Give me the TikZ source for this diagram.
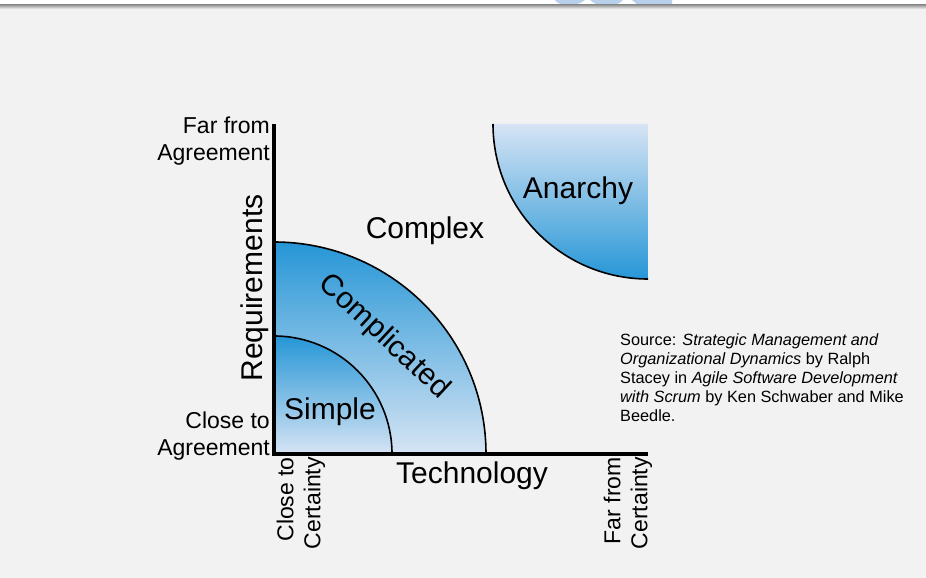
\documentclass[tikz,border=0pt]{standalone}
\usepackage{fontspec}
\setmainfont{Liberation Sans}
\definecolor{fondgris}{RGB}{242,242,242}
\definecolor{bleuFonce}{RGB}{38,150,214}
\definecolor{bleuClair}{RGB}{214,228,244}
\definecolor{logobleu}{RGB}{184,208,234}
\begin{document}
\begin{tikzpicture}[
    x=1pt, y=1pt,
    zone/.style={top color=bleuFonce, bottom color=bleuClair},
    zoneinv/.style={top color=bleuClair, bottom color=bleuFonce},
    bord/.style={draw=black, line width=1.6pt},
    axe/.style={line width=4pt},
    grand/.style={font=\fontsize{30}{35}\selectfont, inner sep=0pt},
    etiquette/.style={font=\fontsize{23}{27}\selectfont, align=right, inner sep=0pt},
    source/.style={font=\fontsize{16.3}{19}\selectfont, align=left, anchor=north west, inner sep=0pt}
]
\useasboundingbox (0,0) rectangle (926,578);

% Fond
\fill[fondgris] (0,0) rectangle (926,578);
\fill[white] (0,573) rectangle (926,578);
\fill[logobleu] (555,578) .. controls (559,571) and (577,571) .. (585,578) -- cycle;
\fill[logobleu] (590,578) .. controls (598,570) and (616,570) .. (623,578) -- cycle;
\fill[logobleu] (632,578) -- (639,572) -- (672,572) -- (672,578) -- cycle;
\shade[top color=gray!80, bottom color=fondgris] (0,573) rectangle (926,569);

% Zones
\shade[zone] (274,124) -- (274,336) arc[start angle=90, end angle=0, radius=212] -- cycle;
\draw[bord] (274,336) arc[start angle=90, end angle=0, radius=212];
\shade[zone] (274,124) -- (274,242) arc[start angle=90, end angle=0, radius=118] -- cycle;
\draw[bord] (274,242) arc[start angle=90, end angle=0, radius=118];
\shade[zoneinv] (648,454) -- (493,454) arc[start angle=180, end angle=270, radius=155] -- cycle;
\draw[bord] (493,454) arc[start angle=180, end angle=270, radius=155];

% Axes
\draw[axe] (274,122) -- (274,454);
\draw[axe] (272,124) -- (648,124);

% Textes
\node[grand] (complex) at (425,347) {Complex};
\node[grand] (anarchy) at (578,387) {Anarchy};
\node[grand] (simple) at (330,166) {Simple};
\node[grand, rotate=-43] (complicated) at (384,241) {Complicated};
\node[grand, rotate=90] (requirements) at (255,290) {Requirements};
\node[grand] (technology) at (472,102) {Technology};

\node[etiquette, anchor=east] (farAgree) at (270,437) {Far from\\Agreement};
\node[etiquette, anchor=east] (closeAgree) at (270,142) {Close to\\Agreement};
\node[etiquette, rotate=90, anchor=east] (closeCert) at (301,121) {Close to\\Certainty};
\node[etiquette, rotate=90, anchor=east] (farCert) at (628,121) {Far from\\Certainty};

% Source
\node[source] (source) at (620,245) {Source: \textit{Strategic Management and}\\
\textit{Organizational Dynamics} by Ralph\\
Stacey in \textit{Agile Software Development}\\
\textit{with Scrum} by Ken Schwaber and Mike\\
Beedle.};

\end{tikzpicture}
\end{document}
